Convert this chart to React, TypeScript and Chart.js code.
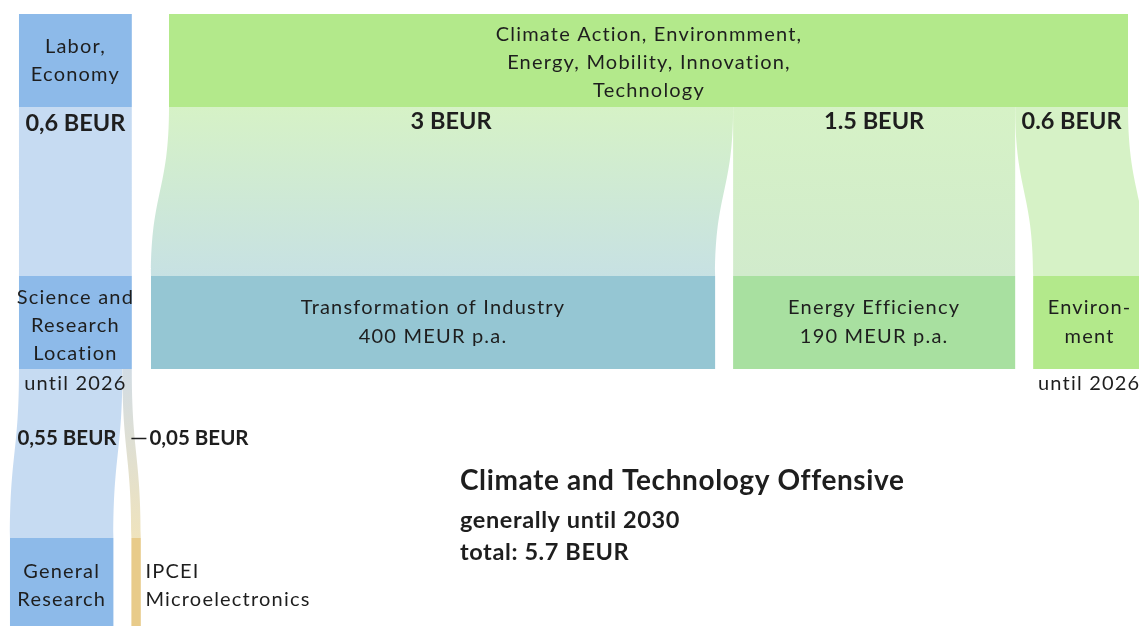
import React, { useEffect, useRef } from 'react';
import { Chart, registerables } from 'chart.js';

Chart.register(...registerables);

const W = 1139;
const H = 626;

// ---- data (BEUR) ----
const topicLines = ['Climate Action, Environmment,', 'Energy, Mobility, Innovation,', 'Technology'];
const offensiveValues = [3, 1.5, 0.6];
const offensiveValueLabels = ['3 BEUR', '1.5 BEUR', '0.6 BEUR'];
const offensiveProgramLines = [
  ['Transformation of Industry', '400 MEUR p.a.'],
  ['Energy Efficiency', '190 MEUR p.a.'],
  ['Environ-', 'ment'],
];
const laborLines = ['Labor,', 'Economy'];
const laborValue = 0.6;
const laborValueLabel = '0,6 BEUR';
const scienceLines = ['Science and', 'Research', 'Location'];
const laborSplitValues = [0.55, 0.05];
const laborSplitLabels = ['0,55 BEUR', '0,05 BEUR'];
const laborSplitLines = [['General', 'Research'], ['IPCEI', 'Microelectronics']];
const untilLabel = 'until 2026';
const offensiveTitle = ['Climate and Technology Offensive', 'generally until 2030', 'total: 5.7 BEUR'];

// ---- layout (not data) ----
const PX_PER_BEUR = 959 / 5.1;
const u = (px: number) => px / PX_PER_BEUR; // pixel distance -> value units
const X_MIN = -u(169);
const X_MAX = u(W - 169);
const ROW = { top: [14, 107], mid: [276, 369], bottom: [538, 640] };
const GAP = u(18);
const LEFT_X0 = -(laborValue + u(37.2));

const C = {
  blueBox: '#8dbae9',
  blueFlow: '#c6dbf2',
  greenTop: '#b3e98b',
  greenFlow: '#d6f2c6',
  tealBox: '#95c6d3',
  tealFlowBottom: '#c7e1e3',
  energyBox: '#a8e0a0',
  energyFlowBottom: '#d1ebcc',
  envBox: '#b3e98b',
  ipceiBox: '#e8cb8a',
  ipceiTop: '#d2dce4',
  ipceiBottom: '#efe3bd',
  text: '#1e1e1e',
};

const FONT = 'Lato, "Open Sans", sans-serif';

const sankeyPlugin = {
  id: 'sankeyPlugin',
  afterDraw(chart: any) {
    const ctx: CanvasRenderingContext2D = chart.ctx;
    const xs = chart.scales.x;
    const ys = chart.scales.y;
    const px = (v: number) => xs.getPixelForValue(v);
    const py = (v: number) => ys.getPixelForValue(v);

    const rect = (x0: number, w: number, y0: number, y1: number, color: string) => {
      ctx.fillStyle = color;
      ctx.fillRect(px(x0), py(y0), px(x0 + w) - px(x0), py(y1) - py(y0));
    };
    const link = (sx0: number, w: number, sy: number, tx0: number, ty: number, top: string, bottom: string) => {
      const a0 = px(sx0), a1 = px(sx0 + w), b0 = px(tx0), b1 = px(tx0 + w);
      const y0 = py(sy), y1 = py(ty), ym = (y0 + y1) / 2;
      const g = ctx.createLinearGradient(0, y0, 0, y1);
      g.addColorStop(0, top);
      g.addColorStop(1, bottom);
      ctx.fillStyle = g;
      ctx.beginPath();
      ctx.moveTo(a0, y0);
      ctx.bezierCurveTo(a0, ym, b0, ym, b0, y1);
      ctx.lineTo(b1, y1);
      ctx.bezierCurveTo(b1, ym, a1, ym, a1, y0);
      ctx.closePath();
      ctx.fill();
    };
    const text = (s: string, x: number, y: number, font: string, align: CanvasTextAlign = 'center', spacing = '0px') => {
      ctx.font = font;
      (ctx as any).letterSpacing = spacing;
      ctx.fillStyle = C.text;
      ctx.textAlign = align;
      ctx.textBaseline = 'middle';
      ctx.fillText(s, px(x), py(y));
    };

    ctx.save();
    const regular = `20px ${FONT}`;
    const sp = '1.2px';
    const boldMid = `bold 23.5px ${FONT}`;
    const boldSmall = `bold 20.5px ${FONT}`;

    // ---------- shapes ----------
    const total = offensiveValues.reduce((a, b) => a + b, 0);
    rect(0, total, ROW.top[0], ROW.top[1], C.greenTop);
    const boxColors = [C.tealBox, C.energyBox, C.envBox];
    const flowBottoms = [C.tealFlowBottom, C.energyFlowBottom, C.greenFlow];
    const srcStarts: number[] = [];
    const tgtStarts: number[] = [];
    let s = 0;
    let t = -GAP;
    offensiveValues.forEach((v, i) => {
      srcStarts.push(s);
      tgtStarts.push(t);
      link(s, v, ROW.top[1], t, ROW.mid[0], C.greenFlow, flowBottoms[i]);
      rect(t, v, ROW.mid[0], ROW.mid[1], boxColors[i]);
      s += v;
      t += v + GAP;
    });

    rect(LEFT_X0, laborValue, ROW.top[0], ROW.top[1], C.blueBox);
    link(LEFT_X0, laborValue, ROW.top[1], LEFT_X0, ROW.mid[0], C.blueFlow, C.blueFlow);
    rect(LEFT_X0, laborValue, ROW.mid[0], ROW.mid[1], C.blueBox);
    const grX0 = LEFT_X0 - u(9);
    const ipX0 = grX0 + laborSplitValues[0] + GAP;
    link(LEFT_X0, laborSplitValues[0], ROW.mid[1], grX0, ROW.bottom[0], C.blueFlow, C.blueFlow);
    link(LEFT_X0 + laborSplitValues[0], laborSplitValues[1], ROW.mid[1], ipX0, ROW.bottom[0], C.ipceiTop, C.ipceiBottom);
    rect(grX0, laborSplitValues[0], ROW.bottom[0], ROW.bottom[1], C.blueBox);
    rect(ipX0, laborSplitValues[1], ROW.bottom[0], ROW.bottom[1], C.ipceiBox);

    // ---------- texts ----------
    offensiveValues.forEach((v, i) => {
      const cx = tgtStarts[i] + v / 2;
      offensiveProgramLines[i].forEach((ln, j) => text(ln, cx, 308 + j * 28.5, regular, 'center', sp));
      text(offensiveValueLabels[i], srcStarts[i] + v / 2, 121, boldMid);
    });
    topicLines.forEach((ln, j) => text(ln, u(480), 35 + j * 28, regular, 'center', sp));
    const envX0 = tgtStarts[2];
    text(untilLabel, envX0 + u(56), 384, regular, 'center', sp);

    const lc = LEFT_X0 + laborValue / 2;
    laborLines.forEach((ln, j) => text(ln, lc, 47 + j * 28, regular, 'center', sp));
    text(laborValueLabel, lc, 123, boldMid);
    scienceLines.forEach((ln, j) => text(ln, lc, 298 + j * 28, regular, 'center', sp));
    text(untilLabel, lc, 384, regular, 'center', sp);

    text(laborSplitLabels[0], LEFT_X0 + u(48), 438, boldSmall);
    ctx.strokeStyle = C.text;
    ctx.lineWidth = 1.5;
    ctx.beginPath();
    ctx.moveTo(px(ipX0), py(438.5));
    ctx.lineTo(px(ipX0 + u(15)), py(438.5));
    ctx.stroke();
    text(laborSplitLabels[1], ipX0 + u(18), 438, boldSmall, 'left');
    laborSplitLines[0].forEach((ln, j) => text(ln, grX0 + laborSplitValues[0] / 2, 572 + j * 28, regular, 'center', sp));
    laborSplitLines[1].forEach((ln, j) => text(ln, ipX0 + u(14), 572 + j * 28, regular, 'left', sp));

    const tx = u(460 - 169);
    text(offensiveTitle[0], tx, 481, `bold 28px ${FONT}`, 'left', '0.6px');
    text(offensiveTitle[1], tx, 520, `bold 23.5px ${FONT}`, 'left', '0.6px');
    text(offensiveTitle[2], tx, 552, `bold 23.5px ${FONT}`, 'left', '0.6px');

    ctx.restore();
  },
};

export default function App() {
  const ref = useRef<HTMLCanvasElement>(null);
  useEffect(() => {
    document.body.style.margin = '0';
    const chart = new Chart(ref.current as HTMLCanvasElement, {
      type: 'scatter',
      data: { datasets: [] },
      options: {
        responsive: false,
        animation: false,
        events: [],
        layout: { padding: 0 },
        plugins: { legend: { display: false }, tooltip: { enabled: false } },
        scales: {
          x: { type: 'linear', display: false, min: X_MIN, max: X_MAX },
          y: { type: 'linear', display: false, min: 0, max: H, reverse: true },
        },
      },
      plugins: [sankeyPlugin],
    } as any);
    return () => chart.destroy();
  }, []);
  return (
    <div style={{ position: 'fixed', left: 0, top: 0, width: W, height: H, background: '#fff', overflow: 'hidden' }}>
      <canvas ref={ref} width={W} height={H} style={{ display: 'block' }} />
    </div>
  );
}
